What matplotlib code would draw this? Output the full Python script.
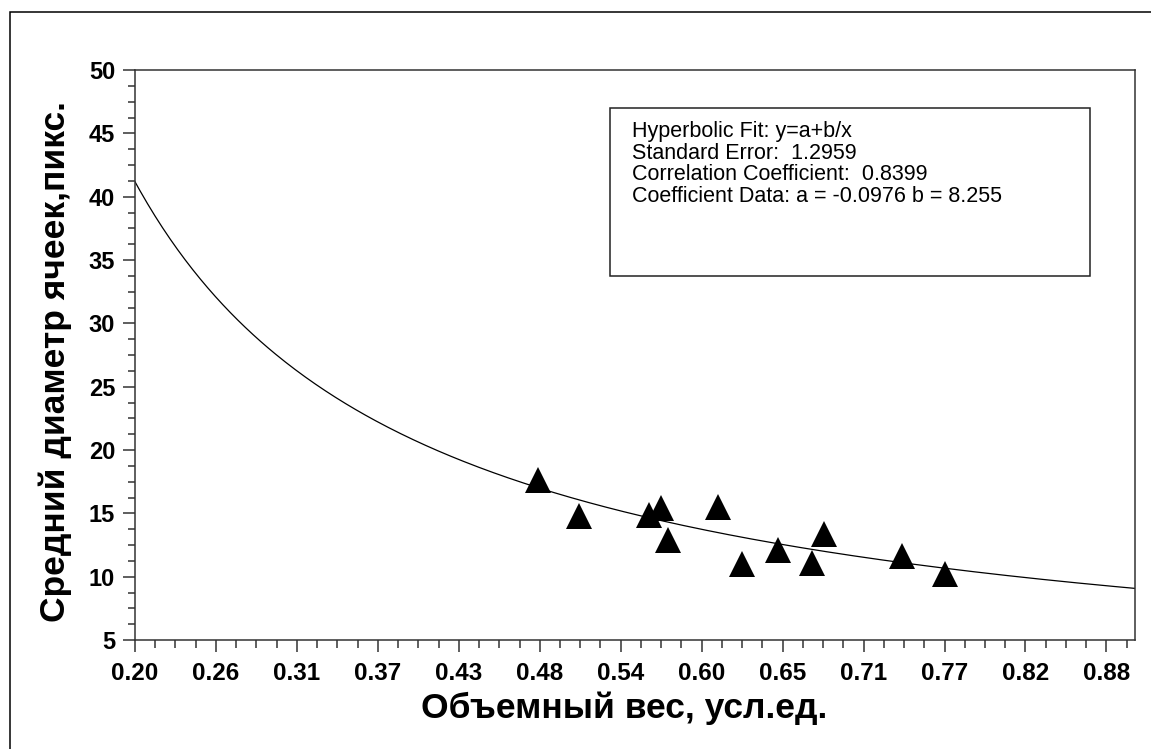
import numpy as np
import matplotlib
matplotlib.use("Agg")
import matplotlib.pyplot as plt
from matplotlib.patches import Rectangle
from matplotlib.ticker import FixedLocator, FixedFormatter, MultipleLocator

plt.rcParams['font.family'] = ['Liberation Sans', 'DejaVu Sans']

# measured points
density = [0.482, 0.511, 0.560, 0.568, 0.573, 0.608, 0.625, 0.650, 0.674, 0.682, 0.737, 0.767]
diameter = [17.6, 14.8, 14.9, 15.4, 12.9, 15.5, 11.0, 12.1, 11.1, 13.4, 11.6, 10.2]

# hyperbolic fit y = a + b/x (coefficients from the chart)
fit_a = -0.0976
fit_b = 8.255

x_ticks = [0.20 + k * 0.68 / 12 for k in range(13)]
x_tick_labels = ["0.20", "0.26", "0.31", "0.37", "0.43", "0.48", "0.54",
                 "0.60", "0.65", "0.71", "0.77", "0.82", "0.88"]
y_ticks = [5, 10, 15, 20, 25, 30, 35, 40, 45, 50]

fit_lines = ["Hyperbolic Fit: y=a+b/x",
             "Standard Error:  1.2959",
             "Correlation Coefficient:  0.8399",
             "Coefficient Data: a = -0.0976 b = 8.255"]

W, H = 1151, 749
fig = plt.figure(figsize=(W / 100, H / 100), dpi=100)
ax = fig.add_axes([135 / W, 1 - 640 / H, 1000 / W, 570 / H])

xs = np.linspace(0.2, 0.9, 400)
ax.plot(xs, fit_a + fit_b / xs, color='black', lw=0.9)
ax.plot(density, diameter, linestyle='none', marker='^', ms=18.5,
        color='black', markeredgewidth=0)

ax.set_xlim(0.2, 0.9)
ax.set_ylim(5, 50)

ax.xaxis.set_major_locator(FixedLocator(x_ticks))
ax.xaxis.set_major_formatter(FixedFormatter(x_tick_labels))
ax.xaxis.set_minor_locator(FixedLocator(
    [0.20 + k * 0.68 / 48 for k in range(50) if k % 4 and 0.20 + k * 0.68 / 48 <= 0.9]))
ax.yaxis.set_major_locator(FixedLocator(y_ticks))
ax.yaxis.set_minor_locator(MultipleLocator(1.25))

spine_col = '#333333'
for side in ('top', 'right', 'left', 'bottom'):
    ax.spines[side].set_color(spine_col)
    ax.spines[side].set_linewidth(1.1)

ax.tick_params(which='major', direction='out', length=8.6, width=1.1, color=spine_col)
ax.tick_params(which='minor', direction='out', length=5.4, width=1.1, color=spine_col)
ax.tick_params(axis='x', which='major', labelsize=17.5, pad=7)
ax.tick_params(axis='y', which='major', labelsize=17, pad=5.8)
for lab in ax.get_xticklabels() + ax.get_yticklabels():
    lab.set_fontweight('bold')

fig.text(624 / W, 1 - 718 / H, "Объемный вес, усл.ед.", fontsize=25.5,
         fontweight='bold', ha='center', va='baseline')
fig.text(55 / W, 1 - 362 / H, "Средний диаметр ячеек,пикс.", fontsize=25.5,
         fontweight='bold', ha='center', va='center', rotation=90)

# fit info box
fig.patches.append(Rectangle((610 / W, 1 - 276 / H), 480 / W, 168 / H,
                             transform=fig.transFigure, fill=False,
                             edgecolor='#222222', lw=1.1))
for i, line in enumerate(fit_lines):
    fig.text(632 / W, 1 - (131.5 + i * 21.7) / H, line, fontsize=15.5,
             va='center', ha='left', color='black')

# outer frame
fig.patches.append(Rectangle((10 / W, -0.1), 2, 1.1 - 12 / H,
                             transform=fig.transFigure, fill=False,
                             edgecolor='black', lw=1.1))

fig.savefig("out.png", dpi=100)
